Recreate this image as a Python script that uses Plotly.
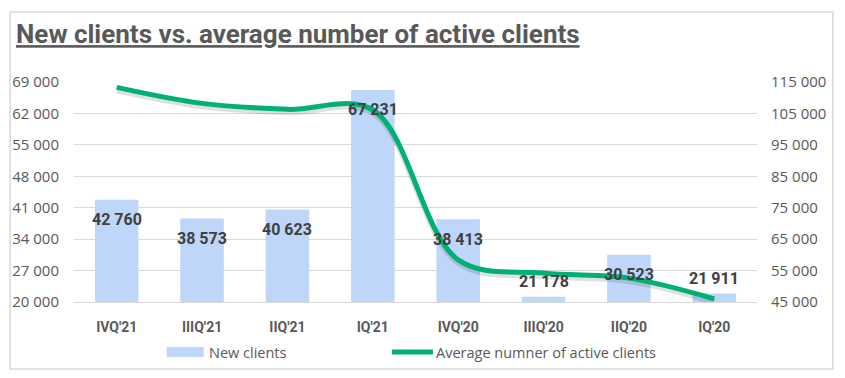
import plotly.graph_objects as go

categories = ["IVQ'21", "IIIQ'21", "IIQ'21", "IQ'21", "IVQ'20", "IIIQ'20", "IIQ'20", "IQ'20"]
new_clients = [42760, 38573, 40623, 67231, 38413, 21178, 30523, 21911]
avg_active = [113300, 108200, 106300, 106100, 58400, 54200, 52600, 46000]
left_ticks = [20000, 27000, 34000, 41000, 48000, 55000, 62000, 69000]
right_ticks = [45000, 55000, 65000, 75000, 85000, 95000, 105000, 115000]

W, H = 845, 378
ML, MR, MT, MB = 72, 88, 82, 76
PW, PH = W - ML - MR, H - MT - MB


def px(x):
    return (x - ML) / PW


def py(y):
    return (H - MB - y) / PH


def fmt(v):
    return f"{v:,}".replace(",", " ")


BAR = "#BDD6FA"
GREEN = "#00B074"
GRAY = "#595959"

# shadow offset for the line (3 px downward, converted to right-axis units)
shadow_dy = 3 * (115000 - 45000) / PH

fig = go.Figure()
fig.add_trace(go.Bar(
    x=categories, y=new_clients, name="New clients",
    marker=dict(color=BAR, line=dict(width=0)),
    showlegend=False, yaxis="y",
))
fig.add_trace(go.Scatter(
    x=categories, y=[v - shadow_dy for v in avg_active], hoverinfo="skip",
    mode="lines", line=dict(color="rgba(0,0,0,0.12)", width=6, shape="spline", smoothing=1.0),
    showlegend=False, yaxis="y2",
))
fig.add_trace(go.Scatter(
    x=categories, y=avg_active, name="Average numner of active clients",
    mode="lines", line=dict(color=GREEN, width=5, shape="spline", smoothing=1.0),
    showlegend=False, yaxis="y2",
))

annotations = []
for c, v in zip(categories, new_clients):
    annotations.append(dict(
        x=c, y=v, xref="x", yref="y", text=fmt(v), showarrow=False,
        yshift=-20 if v > 25000 else 15,
        font=dict(family="Roboto", size=16, color="#404040", weight="bold"),
    ))

# custom legend
annotations.append(dict(x=px(205), y=py(352), xref="paper", yref="paper", text="New clients",
                        showarrow=False, xanchor="left", yanchor="middle",
                        font=dict(family="Open Sans", size=14.5, color=GRAY)))
annotations.append(dict(x=px(433), y=py(352), xref="paper", yref="paper",
                        text="Average numner of active clients",
                        showarrow=False, xanchor="left", yanchor="middle",
                        font=dict(family="Open Sans", size=14.5, color=GRAY)))

shapes = [
    dict(type="rect", xref="paper", yref="paper", x0=px(8), x1=px(833), y0=py(12), y1=py(369),
         line=dict(color="#D9D9D9", width=1.5), fillcolor="rgba(0,0,0,0)", layer="below"),
    dict(type="rect", xref="paper", yref="paper", x0=px(165), x1=px(202), y0=py(347), y1=py(357),
         line=dict(width=0), fillcolor=BAR),
    dict(type="line", xref="paper", yref="paper", x0=px(391), x1=px(432), y0=py(352), y1=py(352),
         line=dict(color=GREEN, width=5)),
]

fig.update_layout(
    width=W, height=H,
    margin=dict(l=ML, r=MR, t=MT, b=MB),
    paper_bgcolor="white", plot_bgcolor="white",
    separators=". ",
    bargap=0.49,
    title=dict(
        text="New clients vs. average number of active clients",
        x=16 / W, xanchor="left", y=1 - 34 / H, yanchor="middle",
        font=dict(family="Roboto", size=26, color=GRAY, weight="bold", lineposition="under"),
    ),
    xaxis=dict(
        type="category", showgrid=False, showline=True, linecolor="#D9D9D9", linewidth=1,
        ticks="", ticklabelstandoff=12,
        tickfont=dict(family="Roboto", size=14, color=GRAY, weight="bold"),
    ),
    yaxis=dict(
        range=[20000, 69000], tickvals=left_ticks, ticktext=[fmt(v) for v in left_ticks],
        showgrid=True, gridcolor="#D9D9D9", gridwidth=1, zeroline=False, showline=False,
        ticklabelstandoff=14,
        tickfont=dict(family="Open Sans", size=15, color=GRAY),
    ),
    yaxis2=dict(
        range=[45000, 115000], tickvals=right_ticks, ticktext=[fmt(v) for v in right_ticks],
        overlaying="y", side="right", showgrid=False, zeroline=False, showline=False,
        ticklabelstandoff=13,
        tickfont=dict(family="Open Sans", size=15, color=GRAY),
    ),
    annotations=annotations,
    shapes=shapes,
    showlegend=False,
)

fig.write_html(
    "out.html",
    config={"displayModeBar": False},
    post_script="document.body.style.margin='0';document.body.style.overflow='hidden';",
)
